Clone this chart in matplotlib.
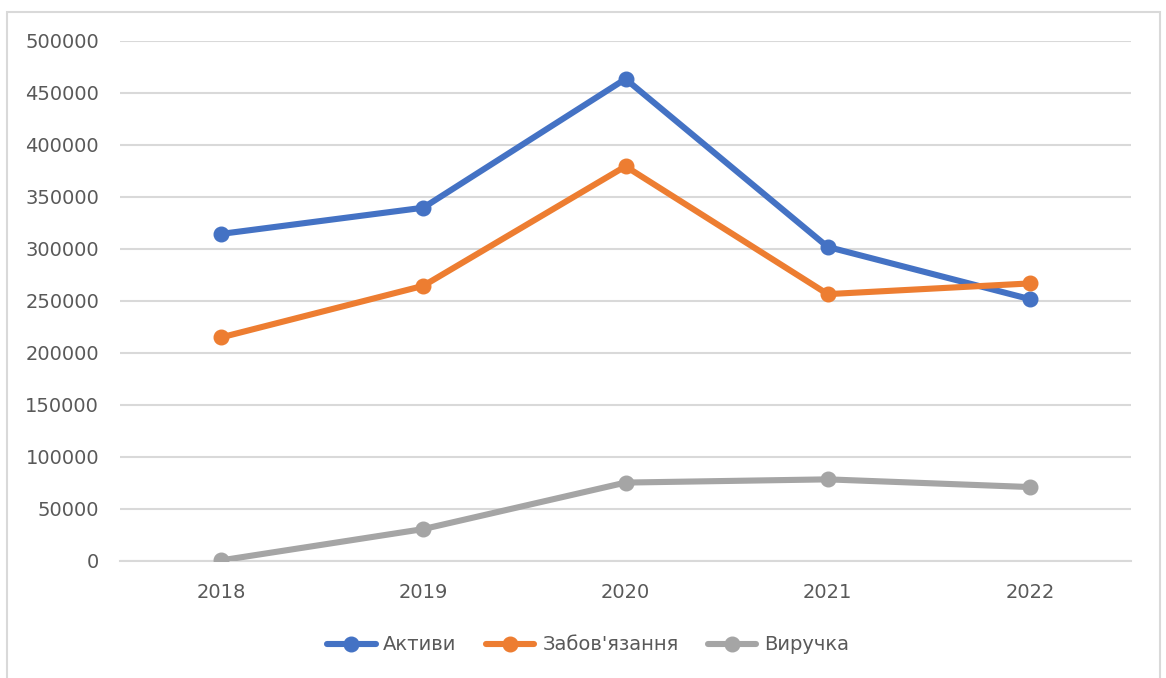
import matplotlib
matplotlib.use("Agg")
import matplotlib.pyplot as plt
from matplotlib.patches import Rectangle

# --- Data ---
years = ["2018", "2019", "2020", "2021", "2022"]
aktyvy = [314500, 339700, 463500, 302000, 251800]
zoboviazannia = [215000, 264600, 379500, 256600, 266900]
vyruchka = [600, 30700, 75400, 78500, 71100]

series = [
    ("Активи", aktyvy, "#4472c4"),
    ("Забов'язання", zoboviazannia, "#ed7d31"),
    ("Виручка", vyruchka, "#a5a5a5"),
]

plt.rcParams["font.family"] = ["DejaVu Sans"]

fig = plt.figure(figsize=(11.66, 6.78), dpi=100)
ax = fig.add_axes([120 / 1166, 1 - 561 / 678, (1131 - 120) / 1166, (561 - 41) / 678])

x = list(range(len(years)))
for name, vals, color in series:
    ax.plot(x, vals, color=color, linewidth=4.4, marker="o", markersize=10.5,
            label=name, solid_capstyle="round", zorder=3)

ax.set_xlim(-0.5, len(years) - 0.5)
ax.set_ylim(0, 500000)
ax.set_yticks(range(0, 500001, 50000))
ax.set_yticklabels([str(v) for v in range(0, 500001, 50000)])
ax.set_xticks(x)
ax.set_xticklabels(years)

ax.grid(axis="y", color="#d9d9d9", linewidth=1.5, zorder=0)
for side in ("top", "right", "left"):
    ax.spines[side].set_visible(False)
ax.spines["bottom"].set_color("#d9d9d9")
ax.spines["bottom"].set_linewidth(1.5)
ax.tick_params(axis="both", length=0, labelsize=14, colors="#595959")
ax.tick_params(axis="y", pad=15)
ax.tick_params(axis="x", pad=16)

leg = fig.legend(loc="center", bbox_to_anchor=(588 / 1166, 1 - 645 / 678), ncol=3,
                 frameon=False, fontsize=14, handlelength=2.5, handletextpad=0.4,
                 columnspacing=1.5, markerscale=1.0)
for t in leg.get_texts():
    t.set_color("#595959")

# chart border
fig.patches.append(Rectangle((7 / 1166, -0.05), (1160 - 7) / 1166, 1 - 12 / 678 + 0.05,
                             transform=fig.transFigure, fill=False,
                             edgecolor="#d9d9d9", linewidth=1.5))

fig.savefig("out.png", dpi=100)
